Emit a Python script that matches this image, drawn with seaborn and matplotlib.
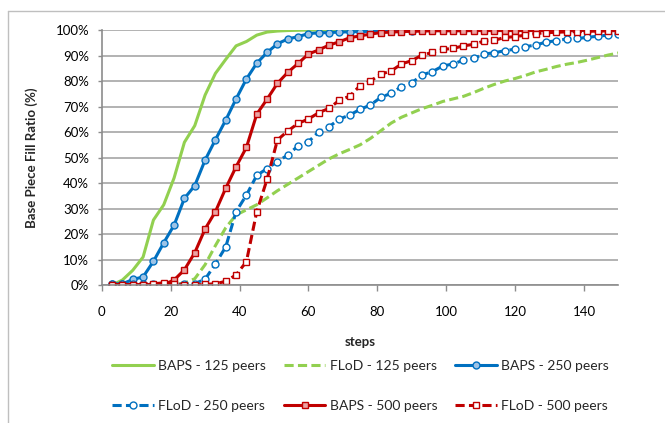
import pandas as pd
import matplotlib
matplotlib.use("Agg")
import matplotlib.pyplot as plt
from matplotlib.lines import Line2D
from matplotlib.ticker import FuncFormatter
import seaborn as sns

# simulation steps (sampled every 3 steps)
steps = [3, 6, 9, 12, 15, 18, 21, 24, 27, 30,
         33, 36, 39, 42, 45, 48, 51, 54, 57, 60,
         63, 66, 69, 72, 75, 78, 81, 84, 87, 90,
         93, 96, 99, 102, 105, 108, 111, 114, 117, 120,
         123, 126, 129, 132, 135, 138, 141, 144, 147, 150]

# base piece fill ratio (%)
baps_125 = [0, 2, 5.8, 11, 25.5, 31.5, 42, 56, 62.5, 74.5,
            83, 88.5, 93.8, 95.5, 98, 99.2, 99.6, 99.8, 99.9, 100,
            100, 100, 100, 100, 100, 100, 100, 100, 100, 100,
            100, 100, 100, 100, 100, 100, 100, 100, 100, 100,
            100, 100, 100, 100, 100, 100, 100, 100, 100, 100]
flod_125 = [0, 0, 0, 0, 0, 0, 0.3, 0.8, 2.5, 8,
            15.5, 22.5, 27.5, 29.5, 31.5, 34.2, 37, 39.5, 42, 44.5,
            47, 49.5, 51.5, 53.2, 55, 57.5, 60.5, 63.5, 65.8, 67.5,
            69.2, 70.5, 72, 73, 74, 75.5, 77.2, 78.7, 80, 81,
            82.2, 83.6, 84.6, 85.7, 86.6, 87.3, 88.2, 89.2, 90.2, 91]
baps_250 = [0.5, 0.5, 2.2, 3.2, 9.3, 16.6, 23.5, 34, 39, 49,
            57, 64.7, 73, 80.8, 87, 91.2, 94.6, 96.5, 97.4, 98.6,
            98.9, 99, 99.2, 99.3, 99.4, 99.5, 99.6, 99.7, 99.8, 99.8,
            99.9, 99.9, 99.9, 99.9, 99.9, 99.9, 99.9, 99.9, 99.9, 99.9,
            99.9, 99.9, 99.9, 99.9, 99.9, 99.9, 99.9, 99.9, 99.9, 99.9]
flod_250 = [0.3, 0.3, 0.3, 0.3, 0.3, 0.3, 0.3, 0.3, 0.6, 2.3,
            8.3, 15, 28.8, 35.3, 43, 45.7, 48.4, 51, 54.6, 56.2,
            60.1, 62.1, 65.1, 66.7, 68.9, 70.6, 73.6, 75.2, 77.8, 79.3,
            82.4, 83.7, 85.9, 86.7, 88.2, 88.9, 90.6, 91.1, 91.9, 92.5,
            93.5, 94.1, 95.3, 95.8, 96.5, 96.7, 97.1, 97.6, 98, 98.4]
baps_500 = [0.2, 0.2, 0.2, 0.2, 0.2, 0.2, 2, 6, 12.7, 22,
            28.8, 38, 46.4, 54, 67, 72.9, 79.1, 83.4, 86.9, 90.6,
            92.2, 94.1, 95.4, 97, 97.7, 98.4, 99, 99.2, 99.4, 99.5,
            99.6, 99.7, 99.7, 99.7, 99.7, 99.8, 99.8, 99.8, 99.8, 99.8,
            99.8, 99.8, 99.8, 99.9, 99.9, 99.9, 99.9, 99.9, 99.9, 99.9]
flod_500 = [0, 0, 0, 0.2, 0.5, 0.9, 0.3, 0, 0, 0.3,
            0.5, 1.5, 4, 9.2, 28.8, 41.5, 56.9, 60.4, 63.4, 65.1,
            67.6, 69.3, 72.5, 74.1, 78.2, 80, 82.7, 83.9, 86.7, 88,
            90.2, 91.2, 92.4, 92.8, 93.8, 94.4, 95.7, 96, 97.1, 97.4,
            98, 98.6, 99, 99.1, 99.3, 99.4, 99.5, 99.6, 99.7, 99.8]

series_names = ["BAPS - 125 peers", "FLoD - 125 peers", "BAPS - 250 peers",
                "FLoD - 250 peers", "BAPS - 500 peers", "FLoD - 500 peers"]
series_values = [baps_125, flod_125, baps_250, flod_250, baps_500, flod_500]

df = pd.DataFrame({"steps": steps})
for name, vals in zip(series_names, series_values):
    df[name] = [v / 100 for v in vals]

green = "#92D050"
blue = "#0070C0"
red = "#C00000"
dash = (0, (3, 1.4))

styles = {
    "BAPS - 125 peers": dict(color=green, linestyle="-", marker=None),
    "FLoD - 125 peers": dict(color=green, linestyle=dash, marker=None),
    "BAPS - 250 peers": dict(color=blue, linestyle="-", marker="o", mfc="#9DC3E6"),
    "FLoD - 250 peers": dict(color=blue, linestyle=dash, marker="o", mfc="white"),
    "BAPS - 500 peers": dict(color=red, linestyle="-", marker="s", mfc="#EBA3A3"),
    "FLoD - 500 peers": dict(color=red, linestyle=dash, marker="s", mfc="white"),
}

sns.set_style("white")
plt.rcParams["font.family"] = ["Lato", "DejaVu Sans"]

fig = plt.figure(figsize=(6.65, 4.23), dpi=100)
ax = fig.add_axes([0.153, 0.326, 0.777, 0.603])

for name in series_names:
    st = styles[name]
    kw = dict(color=st["color"], linestyle=st["linestyle"], linewidth=2.2)
    if st["marker"]:
        kw.update(marker=st["marker"], markersize=5, markerfacecolor=st["mfc"],
                  markeredgecolor=st["color"], markeredgewidth=1)
    sns.lineplot(data=df, x="steps", y=name, ax=ax, label=name, **kw)

ax.set_xlim(0, 150)
ax.set_ylim(0, 1)
ax.set_xticks([0, 20, 40, 60, 80, 100, 120, 140])
ax.set_yticks([i / 10 for i in range(11)])
ax.yaxis.set_major_formatter(FuncFormatter(lambda v, p: f"{v * 100:.0f}%"))

ax.grid(axis="y", color="#A6A6A6", linewidth=1.2)
ax.grid(axis="x", visible=False)
ax.set_axisbelow(True)
for s in ["top", "right"]:
    ax.spines[s].set_visible(False)
for s in ["left", "bottom"]:
    ax.spines[s].set_color("#8C8C8C")
    ax.spines[s].set_linewidth(1.2)

ax.tick_params(axis="x", direction="out", length=4, width=1, color="#8C8C8C",
               pad=11, labelsize=9.5, labelcolor="black", bottom=True)
ax.tick_params(axis="y", direction="out", length=3, width=1, color="#8C8C8C",
               pad=6, labelsize=9.5, labelcolor="black", left=True)

ax.set_xlabel("steps", fontsize=9.5, fontweight="bold")
ax.set_ylabel("Base Piece Fill Ratio (%)", fontsize=9.5, fontweight="bold")
ax.xaxis.set_label_coords(0.5, -0.2)
ax.yaxis.set_label_coords(-0.123, 0.5)

# legend laid out in rows of three
handles, labels = ax.get_legend_handles_labels()
order = [0, 3, 1, 4, 2, 5]
ax.legend([handles[i] for i in order], [labels[i] for i in order],
          ncol=3, frameon=False, fontsize=10, handlelength=3.0,
          handletextpad=0.3, columnspacing=1.3, labelspacing=2.0,
          loc="upper left", bbox_to_anchor=(112 / 665, 1 - 360 / 423),
          bbox_transform=fig.transFigure, borderaxespad=0, borderpad=0)

# outer chart border (partly cropped in the original)
fig.add_artist(Line2D([8 / 665, 1], [1 - 11 / 423, 1 - 11 / 423],
                      transform=fig.transFigure, color="#BFBFBF", linewidth=1))
fig.add_artist(Line2D([8 / 665, 8 / 665], [0, 1 - 11 / 423],
                      transform=fig.transFigure, color="#BFBFBF", linewidth=1))

fig.savefig("out.png", dpi=100)
